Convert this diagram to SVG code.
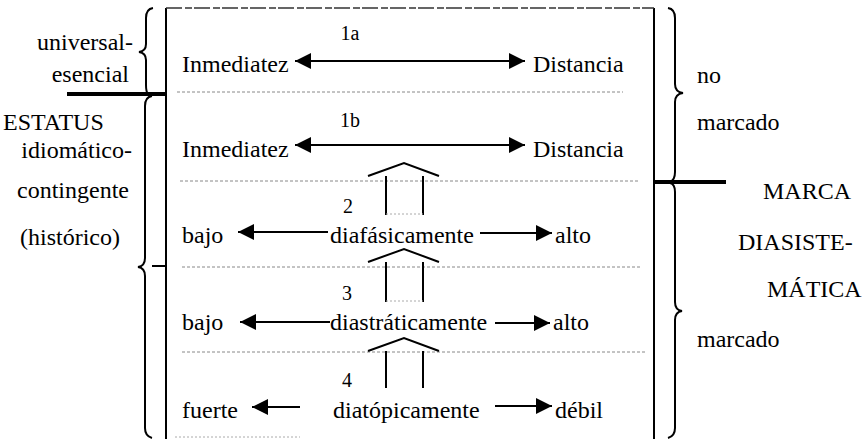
<svg xmlns="http://www.w3.org/2000/svg" width="863" height="439" viewBox="0 0 863 439">
<style>
text{font-family:"Liberation Serif","Times New Roman","DejaVu Serif",serif;font-size:24px;fill:#000}
.lbl{font-size:20px;text-anchor:middle}
.end{text-anchor:end}
.box{stroke:#000;stroke-width:2;fill:none}
.thick{stroke:#000;stroke-width:4;fill:none}
.brace{stroke:#000;stroke-width:2;fill:none}
.sep{stroke:#888;stroke-width:1;stroke-dasharray:3 2;fill:none}
.arr{stroke:#000;stroke-width:2;fill:none}
.up{stroke:#000;stroke-width:2;fill:none}
.faint{stroke:#aaa;stroke-width:1;stroke-dasharray:2 2;fill:none}
</style>
<defs>
<marker id="ah" viewBox="0 0 16 16" markerWidth="16" markerHeight="16" refX="16" refY="8" orient="auto-start-reverse" markerUnits="userSpaceOnUse">
<path d="M0,0 L16,8 L0,16 z" fill="#000"/>
</marker>
</defs>

<g id="frame">
<line class="box" x1="166" y1="8" x2="166" y2="439"/>
<line class="box" x1="654" y1="8" x2="654" y2="439"/>
<line x1="166" y1="8" x2="654" y2="8" stroke="#333" stroke-width="1.5" stroke-dasharray="16 3 7 2"/>
<line class="sep" x1="177" y1="92" x2="623" y2="92"/>
<line class="sep" x1="180" y1="181" x2="640" y2="181"/>
<line class="sep" x1="182" y1="267" x2="642" y2="267"/>
<line class="sep" x1="182" y1="352" x2="645" y2="352"/>
<line class="faint" x1="175" y1="437" x2="300" y2="437"/>
</g>

<g id="left-status">
<line class="thick" x1="67" y1="94" x2="166" y2="94"/>
<path class="brace" d="M153,8 Q146,9 146,18 L146,44 Q146,51 139,52 Q146,53 146,60 L146,85 Q146,92 148,94"/>
<path class="brace" d="M152,96 Q145,97 145,106 L145,258 Q145,266 138,267 Q145,268 145,276 L145,428 Q145,436 152,438"/>
<line stroke="#000" stroke-width="2" x1="152" y1="266" x2="166" y2="266"/>
<text class="end" x="133" y="50">universal-</text>
<text class="end" x="129" y="82">esencial</text>
<text x="3" y="130">ESTATUS</text>
<text class="end" x="132" y="158">idiomático-</text>
<text class="end" x="129" y="198">contingente</text>
<text class="end" x="120" y="245">(histórico)</text>
</g>

<g id="right-marca">
<line class="thick" x1="654" y1="182" x2="726" y2="182"/>
<path class="brace" d="M668,8 Q675,9 675,18 L675,84 Q675,92 683,93 Q675,94 675,102 L675,172 Q675,180 670,182"/>
<path class="brace" d="M670,183 Q675,184 675,192 L675,302 Q675,310 682,311 Q675,312 675,320 L675,428 Q675,436 668,438"/>
<text x="697" y="83">no</text>
<text x="697" y="130">marcado</text>
<text x="763" y="199">MARCA</text>
<text x="738" y="250">DIASISTE-</text>
<text x="767" y="297">MÁTICA</text>
<text x="697" y="347">marcado</text>
</g>

<g id="row-1a">
<text class="lbl" x="350" y="40">1a</text>
<text x="182" y="72">Inmediatez</text>
<text x="533" y="72">Distancia</text>
</g>
<g id="row-1b">
<text class="lbl" x="350" y="127">1b</text>
<text x="182" y="157">Inmediatez</text>
<text x="533" y="157">Distancia</text>
</g>
<g id="row-2">
<text class="lbl" x="348" y="213">2</text>
<text x="182" y="243">bajo</text>
<text x="330" y="243">diafásicamente</text>
<text x="555" y="243">alto</text>
</g>
<g id="row-3">
<text class="lbl" x="347" y="300">3</text>
<text x="182" y="330">bajo</text>
<text x="330" y="330">diastráticamente</text>
<text x="553" y="330">alto</text>
</g>
<g id="row-4">
<text class="lbl" x="347" y="387">4</text>
<text x="182" y="418">fuerte</text>
<text x="333" y="418">diatópicamente</text>
<text x="555" y="418">débil</text>
</g>

<g id="connectors">
<line class="arr" x1="295" y1="61" x2="525" y2="61" marker-start="url(#ah)" marker-end="url(#ah)"/>
<line class="arr" x1="295" y1="145" x2="525" y2="145" marker-start="url(#ah)" marker-end="url(#ah)"/>
<line class="arr" x1="328" y1="232" x2="238" y2="232" marker-end="url(#ah)"/>
<line class="arr" x1="480" y1="233" x2="552" y2="233" marker-end="url(#ah)"/>
<line class="arr" x1="330" y1="322" x2="240" y2="322" marker-end="url(#ah)"/>
<line class="arr" x1="495" y1="323" x2="550" y2="323" marker-end="url(#ah)"/>
<line class="arr" x1="300" y1="407" x2="252" y2="407" marker-end="url(#ah)"/>
<line class="arr" x1="495" y1="406" x2="552" y2="406" marker-end="url(#ah)"/>
<path class="up" d="M368,176 L404,163 L439,176 M386,176 L386,215 M423,176 L423,215"/>
<line class="faint" x1="386" y1="214" x2="423" y2="214"/>
<path class="up" d="M368,262 L404,249 L439,262 M386,262 L386,302 M423,262 L423,302"/>
<line class="faint" x1="386" y1="301" x2="423" y2="301"/>
<path class="up" d="M368,351 L404,338 L439,351 M386,351 L386,388 M423,351 L423,388"/>
</g>
</svg>
